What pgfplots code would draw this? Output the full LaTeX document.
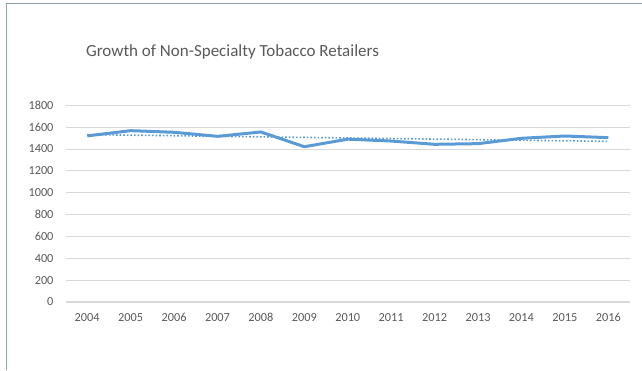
\documentclass[border=0pt]{standalone}
\usepackage{fontspec}
\setmainfont{Carlito}
\usepackage{pgfplots}
\pgfplotsset{compat=1.18}
\definecolor{linecol}{HTML}{5B9BD5}
\definecolor{gridcol}{HTML}{D9D9D9}
\definecolor{txtcol}{HTML}{595959}
\definecolor{framecol}{HTML}{8FA3AA}
\begin{document}
\begin{tikzpicture}[x=1pt,y=1pt]
\useasboundingbox (0,0) rectangle (642,370);
\draw[framecol, line width=1.4pt] (6.5,0) -- (6.5,366.5) -- (642,366.5);
\node[txtcol, font=\fontsize{17}{19}\selectfont] at (232.5,318) {Growth of Non-Specialty Tobacco Retailers};
\begin{axis}[
  at={(65.5pt,68pt)}, anchor=south west,
  scale only axis, width=564.5pt, height=196.7pt,
  xmin=-0.5, xmax=12.5, ymin=0, ymax=1800,
  xtick={0,...,12},
  xticklabels={2004,2005,2006,2007,2008,2009,2010,2011,2012,2013,2014,2015,2016},
  ytick={0,200,...,1800},
  ymajorgrids, grid style={gridcol, line width=1pt},
  axis line style={draw=none},
  major tick length=0pt,
  tick label style={txtcol, font=\fontsize{12.3}{14}\selectfont},
  /pgf/number format/assume math mode=true,
  /pgf/number format/1000 sep={},
  yticklabel style={xshift=-8.5pt},
  xticklabel style={yshift=-8pt},
  clip=false,
]
\draw[gridcol, line width=1.3pt] (axis cs:-0.5,0) -- (axis cs:12.5,0);
\addplot[linecol, line width=3pt, line join=round] coordinates {
(0,1520) (1,1568) (2,1553) (3,1516) (4,1556) (5,1421) (6,1490) (7,1473) (8,1443) (9,1449) (10,1498) (11,1519) (12,1504)};
\addplot[linecol, line width=1.6pt, dotted] coordinates {(0,1532) (12,1470)};
\end{axis}
\end{tikzpicture}
\end{document}
